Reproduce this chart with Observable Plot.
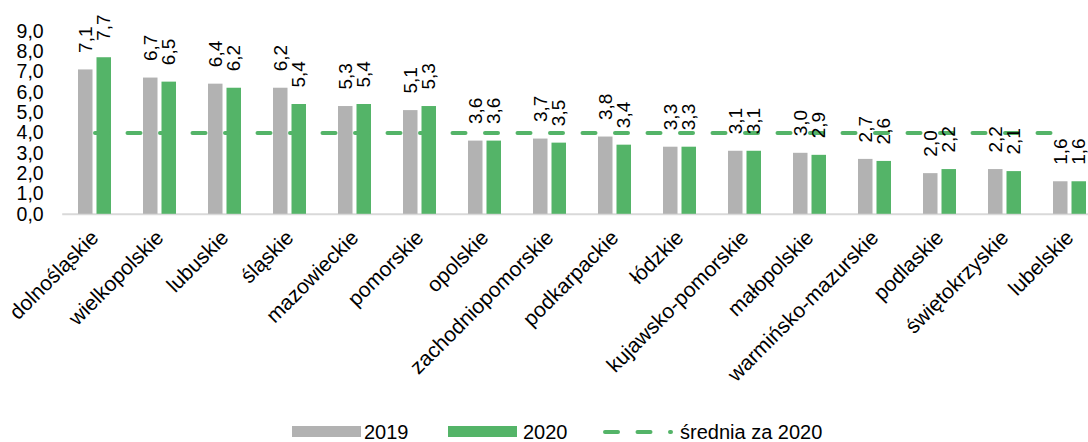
<!DOCTYPE html>
<html>
<head>
<meta charset="utf-8">
<script src="https://cdn.jsdelivr.net/npm/d3@7"></script>
<script src="https://cdn.jsdelivr.net/npm/@observablehq/plot@0.6"></script>
<style>
  html, body { margin: 0; padding: 0; background: #fff; }
  body { width: 1088px; height: 442px; overflow: hidden; font-family: "Liberation Sans", Arial, sans-serif; }
  #legend { position: relative; width: 1088px; height: 42px; }
  #legend .sw { position: absolute; top: 26px; height: 11px; width: 69px; }
  #legend .tx { position: absolute; top: 21px; height: 22px; line-height: 22px; font-size: 20px; color: #000; white-space: nowrap; }
  #legend svg { position: absolute; top: 22px; left: 0; }
</style>
</head>
<body>
<div id="chart"></div>
<div id="legend"></div>
<script>
const regions = ["dolnośląskie","wielkopolskie","lubuskie","śląskie","mazowieckie","pomorskie","opolskie","zachodniopomorskie","podkarpackie","łódzkie","kujawsko-pomorskie","małopolskie","warmińsko-mazurskie","podlaskie","świętokrzyskie","lubelskie"];
const values2019 = [7.1,6.7,6.4,6.2,5.3,5.1,3.6,3.7,3.8,3.3,3.1,3.0,2.7,2.0,2.2,1.6];
const values2020 = [7.7,6.5,6.2,5.4,5.4,5.3,3.6,3.5,3.4,3.3,3.1,2.9,2.6,2.2,2.1,1.6];
const average2020 = 4.0;
const yTicks = [0,1,2,3,4,5,6,7,8,9];
const seriesNames = ["2019", "2020", "średnia za 2020"];

const gray = "#b2b2b2";
const green = "#54b468";
const fmt = v => v.toFixed(1).replace(".", ",");

const rows = regions.map((r, i) => ({region: r, v2019: values2019[i], v2020: values2020[i], avg: average2020}));

const chart = Plot.plot({
  width: 1088,
  height: 400,
  marginLeft: 62.2,
  marginRight: 0,
  marginTop: 30.8,
  marginBottom: 186.2,
  style: {fontFamily: "'Liberation Sans', Arial, sans-serif", fontSize: "19px", color: "#000", background: "#fff"},
  x: {domain: regions, range: [62.2, 1102.2], padding: 0},
  y: {domain: [0, 9]},
  marks: [
    Plot.ruleY([0], {stroke: "#d9d9d9", strokeWidth: 2}),
    Plot.barY(rows, {x: "region", y: "v2019", fill: gray, insetLeft: 16, insetRight: 34.5}),
    Plot.barY(rows, {x: "region", y: "v2020", fill: green, insetLeft: 34.5, insetRight: 16}),
    Plot.lineY(rows, {x: "region", y: "avg", stroke: green, strokeWidth: 4, strokeDasharray: "13,19.5", strokeLinecap: "round"}),
    Plot.text(rows, {x: "region", y: "v2019", text: d => fmt(d.v2019), rotate: -90, textAnchor: "start", dx: -9.25, dy: -17, fontSize: 19, fill: "#000"}),
    Plot.text(rows, {x: "region", y: "v2020", text: d => fmt(d.v2020), rotate: -90, textAnchor: "start", dx: 9.25, dy: -17, fontSize: 19, fill: "#000"}),
    Plot.axisY({ticks: yTicks, tickFormat: fmt, tickSize: 0, tickPadding: 19, fontSize: 19.5, label: null}),
    Plot.axisX({tickRotate: -45, tickSize: 0, tickPadding: 20, fontSize: 21, label: null})
  ]
});
document.getElementById("chart").appendChild(chart);

// legend
const legend = document.getElementById("legend");
const sw1 = document.createElement("div"); sw1.className = "sw"; sw1.style.left = "292px"; sw1.style.background = gray; legend.appendChild(sw1);
const t1 = document.createElement("div"); t1.className = "tx"; t1.style.left = "364px"; t1.textContent = seriesNames[0]; legend.appendChild(t1);
const sw2 = document.createElement("div"); sw2.className = "sw"; sw2.style.left = "448px"; sw2.style.background = green; legend.appendChild(sw2);
const t2 = document.createElement("div"); t2.className = "tx"; t2.style.left = "523px"; t2.textContent = seriesNames[1]; legend.appendChild(t2);
const ns = "http://www.w3.org/2000/svg";
const lsvg = document.createElementNS(ns, "svg");
lsvg.setAttribute("width", "1088"); lsvg.setAttribute("height", "20");
const ln = document.createElementNS(ns, "line");
ln.setAttribute("x1", "605"); ln.setAttribute("x2", "671");
ln.setAttribute("y1", "10"); ln.setAttribute("y2", "10");
ln.setAttribute("stroke", green); ln.setAttribute("stroke-width", "4");
ln.setAttribute("stroke-dasharray", "13,19.5"); ln.setAttribute("stroke-linecap", "round");
lsvg.appendChild(ln); legend.appendChild(lsvg);
const t3 = document.createElement("div"); t3.className = "tx"; t3.style.left = "680px"; t3.textContent = seriesNames[2]; legend.appendChild(t3);
</script>
</body>
</html>
